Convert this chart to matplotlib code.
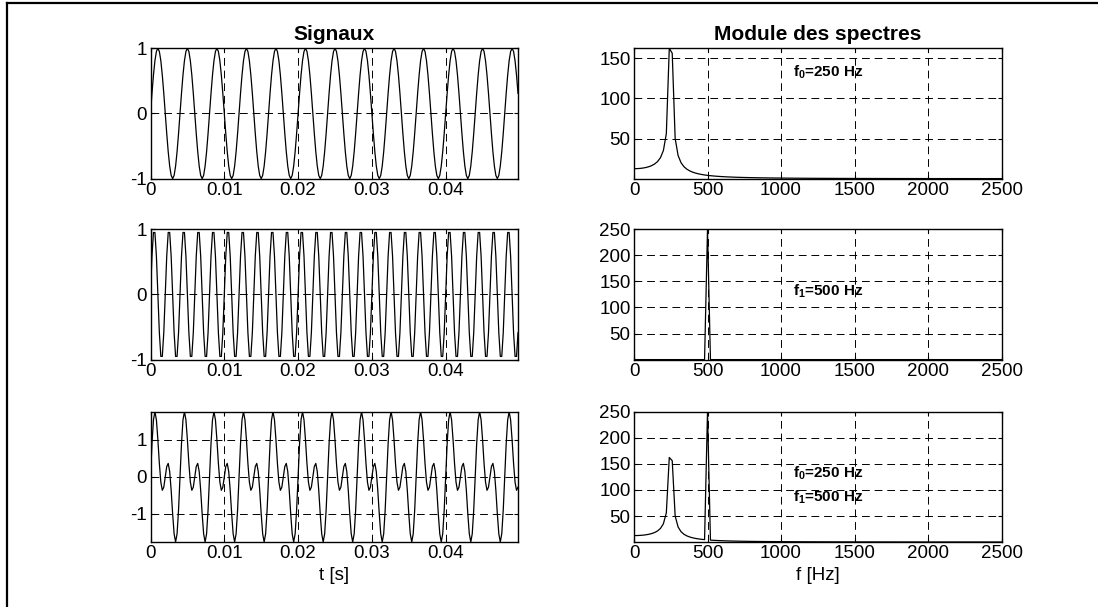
import numpy as np
import matplotlib
matplotlib.use("Agg")
import matplotlib.pyplot as plt
from matplotlib.lines import Line2D

# ---- data (signal parameters) ----
fs = 5000.0            # sampling frequency [Hz] (spectrum axis ends at fs/2 = 2500)
n_samples = 250        # 0 .. 0.0498 s
f0 = 250.0             # Hz
f1 = 500.0             # Hz
amp0 = 1.0
amp1 = 1.0

t_ticks = [0, 0.01, 0.02, 0.03, 0.04]
t_ticklabels = ["0", "0.01", "0.02", "0.03", "0.04"]
f_ticks = [0, 500, 1000, 1500, 2000, 2500]
f_ticklabels = ["0", "500", "1000", "1500", "2000", "2500"]
sig_yticks = [[-1, 0, 1], [-1, 0, 1], [-1, 0, 1]]
spec_yticks = [[50, 100, 150], [50, 100, 150, 200, 250], [50, 100, 150, 200, 250]]
spec_labels = [[r"f$_\mathbf{0}$=250 Hz"], [r"f$_\mathbf{1}$=500 Hz"],
               [r"f$_\mathbf{0}$=250 Hz", r"f$_\mathbf{1}$=500 Hz"]]
spec_label_pos = [[(1080, 133)], [(1080, 131)], [(1080, 132), (1080, 86)]]

# ---- derived signals and spectra ----
t = np.arange(n_samples) / fs
x0 = amp0 * np.sin(2 * np.pi * f0 * t)
x1 = amp1 * np.sin(2 * np.pi * f1 * t)
x2 = x0 + x1
signals = [x0, x1, x2]
nb = n_samples // 2 + 1
freqs = np.arange(nb) * fs / n_samples
spectra = [2 * np.abs(np.fft.fft(s))[:nb] for s in signals]

plt.rcParams["font.family"] = ["Liberation Sans", "DejaVu Sans"]
plt.rcParams["mathtext.fontset"] = "custom"
plt.rcParams["mathtext.rm"] = "Liberation Sans"
plt.rcParams["mathtext.bf"] = "Liberation Sans:bold"
plt.rcParams["mathtext.it"] = "Liberation Sans:italic"
plt.rcParams["axes.unicode_minus"] = False

W, H = 1098, 607
fig = plt.figure(figsize=(W / 100, H / 100), dpi=100)

left_x, right_x, ax_w = 150.5, 634.0, 367.5
row_top = [48.3, 229.3, 411.7]
ax_h = 130.3

tick_fs = 13.5
grid_kw = dict(color="black", linewidth=0.7, linestyle=(0, (8, 5)))

def style(ax):
    for s in ax.spines.values():
        s.set_linewidth(1.0)
        s.set_color("black")
    ax.tick_params(direction="in", length=3, width=0.8, labelsize=tick_fs,
                   top=True, right=True, pad=2.5)
    ax.grid(True, **grid_kw)
    ax.set_axisbelow(False)

for r in range(3):
    # signal
    ax = fig.add_axes([left_x / W, 1 - (row_top[r] + ax_h) / H, ax_w / W, ax_h / H])
    s = signals[r]
    ax.plot(t, s, color="black", linewidth=0.9)
    ax.set_xlim(t[0], t[-1])
    ax.set_ylim(s.min(), s.max())
    ax.set_xticks(t_ticks)
    ax.set_xticklabels(t_ticklabels)
    ax.set_yticks(sig_yticks[r])
    style(ax)
    if r == 0:
        ax.set_title("Signaux", fontsize=15, fontweight="bold", pad=6)
    if r == 2:
        ax.set_xlabel("t [s]", fontsize=tick_fs, labelpad=3)

    # spectrum
    ax2 = fig.add_axes([right_x / W, 1 - (row_top[r] + ax_h) / H, ax_w / W, ax_h / H])
    sp = spectra[r]
    ax2.plot(freqs, sp, color="black", linewidth=0.9)
    ax2.set_xlim(0, 2500)
    ax2.set_ylim(sp.min(), sp.max())
    ax2.set_xticks(f_ticks)
    ax2.set_xticklabels(f_ticklabels)
    ax2.set_yticks(spec_yticks[r])
    style(ax2)
    for lab, (px, py) in zip(spec_labels[r], spec_label_pos[r]):
        ax2.text(px, py, lab, fontsize=11, fontweight="bold", ha="left", va="center")
    if r == 0:
        ax2.set_title("Module des spectres", fontsize=15, fontweight="bold", pad=6)
    if r == 2:
        ax2.set_xlabel("f [Hz]", fontsize=tick_fs, labelpad=3)

# partial outer frame (top and left edges)
fig.add_artist(Line2D([6.5 / W, 1.0], [1 - 2.5 / H, 1 - 2.5 / H],
                      transform=fig.transFigure, color="black", linewidth=1.6))
fig.add_artist(Line2D([6.5 / W, 6.5 / W], [0.0, 1 - 2.5 / H],
                      transform=fig.transFigure, color="black", linewidth=1.6))

fig.savefig("out.png", dpi=100)
